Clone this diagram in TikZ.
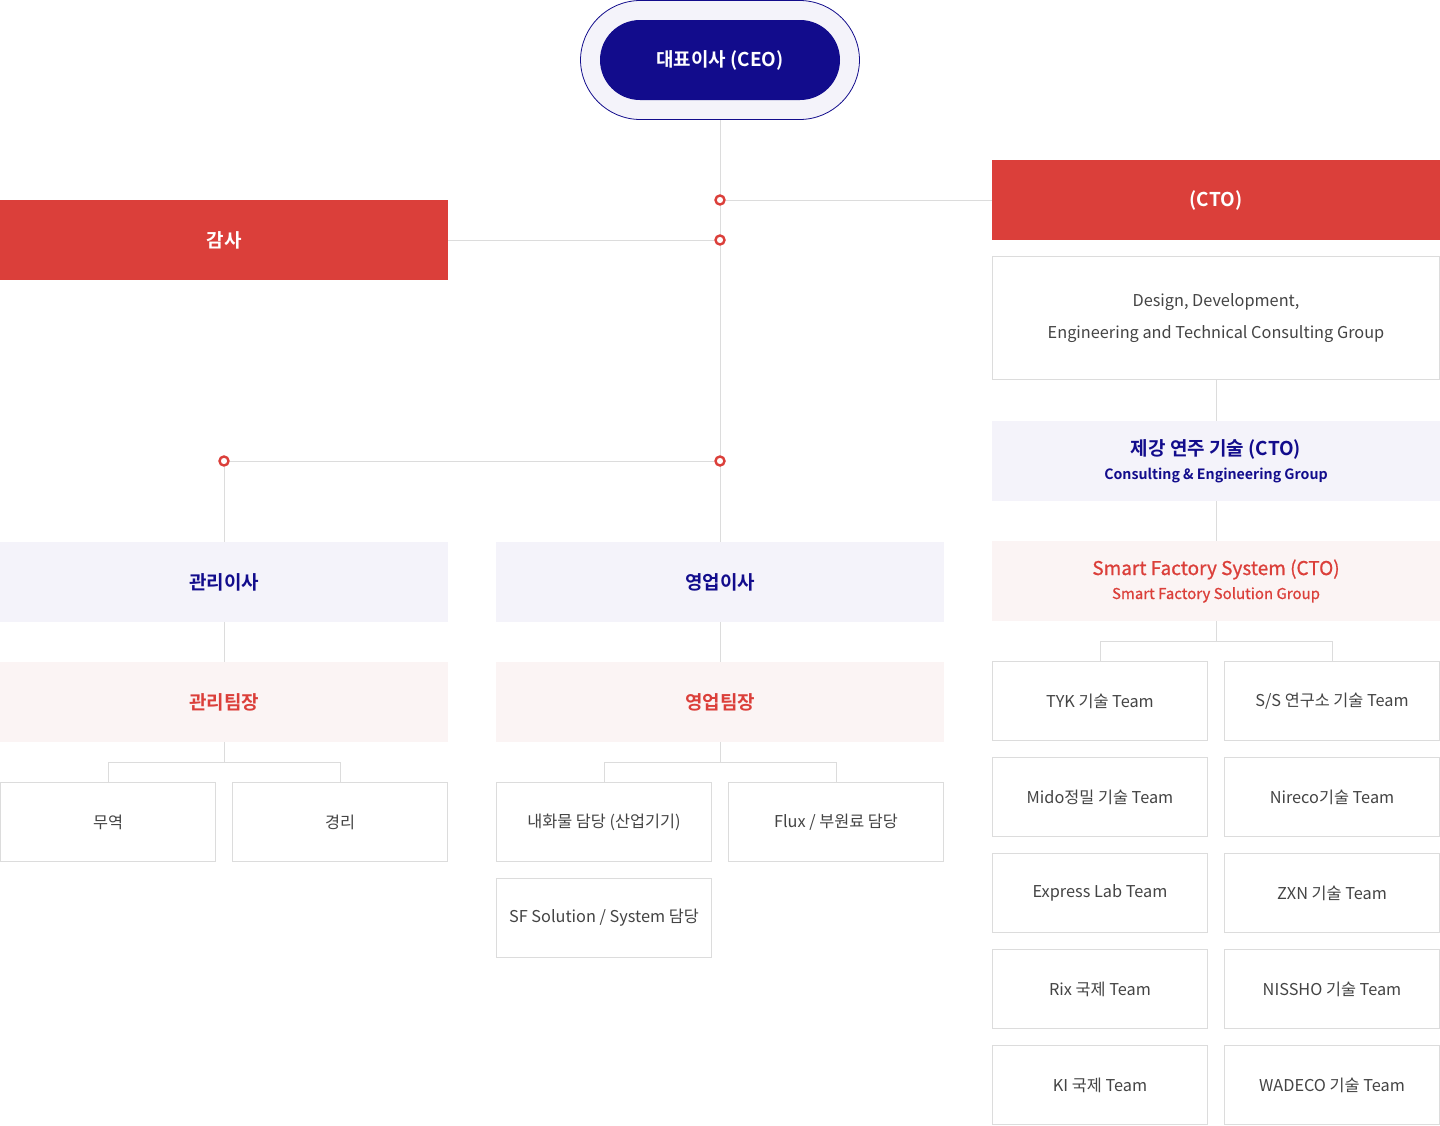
\documentclass[tikz,border=0pt]{standalone}
\usepackage{fontspec}
\setmainfont{Noto Sans CJK KR}[BoldFont={Noto Sans CJK KR Bold}]
\newfontfamily\medfont{Noto Sans CJK KR}[FakeBold=0.8]
\usetikzlibrary{backgrounds}
\definecolor{navy}{HTML}{120C8C}
\definecolor{redc}{HTML}{DB3F3A}
\definecolor{lav}{HTML}{F4F3FA}
\definecolor{pinkc}{HTML}{FBF4F4}
\definecolor{lineg}{HTML}{DCDCDC}
\definecolor{txtg}{HTML}{444444}
\tikzset{
  box/.style={minimum width=448pt, minimum height=80pt, inner sep=0pt, outer sep=0pt, anchor=north west, align=center},
  redbox/.style={box, fill=redc, text=white, font=\fontsize{19}{23}\selectfont\bfseries},
  lavbox/.style={box, fill=lav, text=navy, font=\fontsize{19}{23}\selectfont\bfseries},
  pinkbox/.style={box, fill=pinkc, text=redc, font=\fontsize{19}{23}\selectfont\bfseries},
  wbox/.style={box, minimum width=215pt, minimum height=79pt, draw=lineg, line width=1pt, fill=white, text=txtg, font=\fontsize{16.3}{20}\selectfont},
  conn/.style={draw=lineg, line width=1pt},
  dot/.style={circle, draw=redc, fill=white, line width=2.4pt, minimum size=9pt, inner sep=0pt},
}
\begin{document}
\begin{tikzpicture}[x=1pt,y=-1pt]
\useasboundingbox (0,0) rectangle (1440,1125);
% CEO
\node[draw=navy, line width=0.8pt, fill=lav, rounded corners=60pt, minimum width=279pt, minimum height=119pt, inner sep=0pt, anchor=center] (ceo) at (720,60) {};
\node[fill=navy, rounded corners=40pt, minimum width=240pt, minimum height=80pt, inner sep=0pt, text=white, font=\fontsize{19}{23}\selectfont\bfseries] (ceoin) at (720,60) {대표이사 (CEO)};
% left/right top
\node[redbox] (gamsa) at (0,200) {감사};
\node[redbox] (cto) at (992,160) {(CTO)};
\node[wbox, minimum width=447pt, minimum height=123pt, anchor=center, font=\fontsize{16.3}{32}\selectfont] (design) at (1216,318) {Design, Development,\\Engineering and Technical Consulting Group};
\node[lavbox] (jegang) at (992,421) {제강 연주 기술 (CTO)\\[1pt]{\fontsize{14.2}{17}\selectfont Consulting \& Engineering Group}};
\node[pinkbox, font=\fontsize{19}{23}\selectfont\medfont] (sfs) at (992,541) {Smart Factory System (CTO)\\[1pt]{\fontsize{15}{18}\selectfont Smart Factory Solution Group}};
% teams
\node[wbox] (t1) at (992.5,661.5) {TYK 기술 Team};
\node[wbox] (t2) at (1224.5,661.5) {S/S 연구소 기술 Team};
\node[wbox] (t3) at (992.5,757.5) {Mido정밀 기술 Team};
\node[wbox] (t4) at (1224.5,757.5) {Nireco기술 Team};
\node[wbox] (t5) at (992.5,853.5) {Express Lab Team};
\node[wbox] (t6) at (1224.5,853.5) {ZXN 기술 Team};
\node[wbox] (t7) at (992.5,949.5) {Rix 국제 Team};
\node[wbox] (t8) at (1224.5,949.5) {NISSHO 기술 Team};
\node[wbox] (t9) at (992.5,1045.5) {KI 국제 Team};
\node[wbox] (t10) at (1224.5,1045.5) {WADECO 기술 Team};
% left column
\node[lavbox] (gwanri) at (0,542) {관리이사};
\node[pinkbox] (gwanritj) at (0,662) {관리팀장};
\node[wbox] (muyeok) at (0.5,782.5) {무역};
\node[wbox] (gyeongri) at (232.5,782.5) {경리};
% middle column
\node[lavbox] (yeongeop) at (496,542) {영업이사};
\node[pinkbox] (yeongeoptj) at (496,662) {영업팀장};
\node[wbox] (naehwa) at (496.5,782.5) {내화물 담당 (산업기기)};
\node[wbox] (flux) at (728.5,782.5) {Flux / 부원료 담당};
\node[wbox] (sfsol) at (496.5,878.5) {SF Solution / System 담당};
% dots
\node[dot] (c1) at (720,200) {};
\node[dot] (c2) at (720,240) {};
\node[dot] (c3) at (720,461) {};
\node[dot] (c4) at (224,461) {};
\begin{scope}[on background layer]
\draw[conn] (ceo.south) -- (yeongeop.north);
\draw[conn] (c1) -- (cto.west);
\draw[conn] (gamsa.east) -- (c2);
\draw[conn] (c4) -- (c3);
\draw[conn] (c4) -- (gwanri.north);
\draw[conn] (gwanri.south) -- (gwanritj.north);
\draw[conn] (yeongeop.south) -- (yeongeoptj.north);
\draw[conn] (design.south) -- (jegang.north);
\draw[conn] (jegang.south) -- (sfs.north);
\draw[conn] (gwanritj.south) -- ++(0,20);
\draw[conn] (muyeok.north) -- ++(0,-20) -| (gyeongri.north);
\draw[conn] (yeongeoptj.south) -- ++(0,20);
\draw[conn] (naehwa.north) -- ++(0,-20) -| (flux.north);
\draw[conn] (sfs.south) -- ++(0,20);
\draw[conn] (t1.north) -- ++(0,-20) -| (t2.north);
\end{scope}
\end{tikzpicture}
\end{document}
